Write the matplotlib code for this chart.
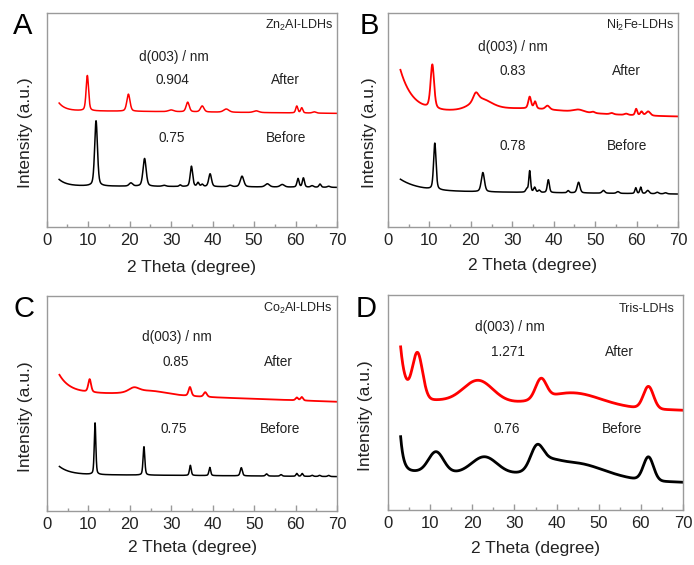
import numpy as np
import matplotlib
matplotlib.use("Agg")
import matplotlib.pyplot as plt
from matplotlib.ticker import MultipleLocator

plt.rcParams['font.family'] = ['Liberation Sans', 'DejaVu Sans']
plt.rcParams['mathtext.fontset'] = 'custom'
plt.rcParams['mathtext.rm'] = 'Liberation Sans'
plt.rcParams['mathtext.it'] = 'Liberation Sans'

# ---------------- data ----------------
two_theta_range = (3.0, 70.0)

# Panel A: Zn2Al-LDHs
A_after_base = (54.4, 53.1)          # baseline at 3 deg, at 70 deg
A_after_low = (3.5, 1.5)             # low-angle rise amplitude, decay length
A_after_pos = [9.8, 19.7, 30.0, 34.0, 37.5, 43.3, 50.5, 60.3, 61.5, 64.5]
A_after_h = [16.5, 8.0, 0.8, 4.5, 2.8, 1.5, 0.8, 3.2, 2.4, 0.6]
A_after_w = [0.7, 0.9, 1.5, 0.9, 1.0, 1.5, 1.5, 0.6, 0.6, 1.0]

A_before_base = (19.2, 18.5)
A_before_low = (3.0, 1.8)
A_before_pos = [11.9, 20.3, 23.6, 28.3, 32.2, 34.9, 36.5, 37.5, 39.4, 44.2, 47.1,
                53.2, 56.8, 60.6, 61.9, 64.0, 65.9, 68.0]
A_before_h = [30.5, 1.5, 13.0, 0.5, 0.7, 9.5, 1.8, 1.0, 6.0, 0.7, 5.0,
              1.5, 1.2, 4.0, 4.3, 0.7, 1.5, 0.5]
A_before_w = [0.8, 1.0, 0.9, 1.0, 0.6, 0.7, 0.6, 0.6, 0.8, 1.0, 1.0,
              1.2, 1.2, 0.6, 0.6, 0.8, 0.6, 0.8]

# Panel B: Ni2Fe-LDHs
B_after_base = (53.4, 51.5)
B_after_low = (19.7, 3.0)
B_after_pos = [10.7, 21.2, 22.5, 33.0, 34.2, 35.5, 38.5, 46.0, 49.5, 54.0, 57.5,
               59.9, 61.2, 62.8]
B_after_h = [20.6, 4.0, 5.0, 2.7, 5.5, 3.3, 1.8, 1.2, 0.6, 0.6, 0.6, 3.0, 1.8, 2.0]
B_after_w = [1.0, 1.5, 6.0, 28.0, 0.8, 0.7, 1.2, 3.0, 1.0, 1.0, 1.0, 0.6, 0.7, 1.2]

B_before_base = (16.8, 15.4)
B_before_low = (5.5, 4.5)
B_before_pos = [11.3, 22.9, 33.5, 34.2, 35.4, 36.5, 38.7, 43.5, 46.0, 52.0, 55.5,
                59.8, 61.0, 62.7, 65.0, 67.0]
B_before_h = [21.7, 9.0, 1.5, 10.0, 2.3, 1.0, 6.0, 1.0, 5.0, 1.3, 0.8,
              2.7, 3.0, 1.5, 0.7, 0.5]
B_before_w = [0.7, 0.9, 0.6, 0.5, 0.6, 0.6, 0.6, 0.6, 0.8, 0.8, 0.8,
              0.5, 0.5, 0.8, 0.8, 0.8]

# Panel C: Co2Al-LDHs
C_after_base = (55.3, 50.8)
C_after_low = (8.0, 2.5)
C_after_pos = [10.3, 21.0, 25.0, 34.5, 38.2, 60.3, 61.5]
C_after_h = [6.0, 2.2, 2.0, 4.2, 2.2, 1.3, 1.6]
C_after_w = [0.8, 3.0, 10.0, 0.8, 0.9, 0.7, 0.7]

C_before_base = (17.0, 16.0)
C_before_low = (3.7, 2.5)
C_before_pos = [11.6, 23.4, 34.6, 39.3, 46.9, 53.0, 56.5, 60.3, 61.6, 64.0, 65.8, 68.0]
C_before_h = [24.0, 13.2, 4.7, 3.8, 3.8, 1.0, 0.7, 1.3, 1.3, 0.5, 0.5, 0.5]
C_before_w = [0.45, 0.5, 0.5, 0.5, 0.6, 0.6, 0.6, 0.5, 0.5, 0.6, 0.6, 0.6]

# Panel D: Tris-LDHs
D_after_base = (51.8, 46.4)
D_after_low = (24.0, 1.2)
D_after_pos = [7.0, 21.4, 36.3, 44.0, 61.8]
D_after_h = [21.0, 10.0, 9.2, 6.0, 10.3]
D_after_w = [2.8, 8.2, 3.0, 15.3, 2.8]

D_before_base = (18.3, 12.9)
D_before_low = (15.8, 0.7)
D_before_pos = [11.4, 22.9, 35.3, 38.0, 44.0, 61.8]
D_before_h = [9.5, 8.0, 9.8, 3.0, 7.0, 10.9]
D_before_w = [4.2, 7.1, 3.5, 5.9, 16.5, 2.8]

panel_letters = ['A', 'B', 'C', 'D']
panel_names = ['Zn$_2$Al-LDHs', 'Ni$_2$Fe-LDHs', 'Co$_2$Al-LDHs', 'Tris-LDHs']
d_after = ['0.904', '0.83', '0.85', '1.271']
d_before = ['0.75', '0.78', '0.75', '0.76']
x_ticks = [0, 10, 20, 30, 40, 50, 60, 70]


def pattern(x, base, low, pos, h, w, eta):
    x0, x1 = two_theta_range
    y = base[0] + (base[1] - base[0]) * (x - x0) / (x1 - x0)
    y = y + low[0] * np.exp(-(x - x0) / low[1])
    for p, hh, ww in zip(pos, h, w):
        g = np.exp(-4 * np.log(2) * ((x - p) / ww) ** 2)
        l = 1.0 / (1.0 + (2 * (x - p) / ww) ** 2)
        y = y + hh * ((1 - eta) * g + eta * l)
    return y


# ---------------- figure ----------------
W, H = 694, 565
fig = plt.figure(figsize=(W / 100, H / 100), dpi=100)

# axes rectangles in pixels: left, right, top, bottom
rects = [(46.7, 337, 13, 227), (388, 678, 13, 227),
         (47, 337, 296, 511), (388, 683, 295, 510)]

curves = [
    ((A_after_base, A_after_low, A_after_pos, A_after_h, A_after_w, 0.4),
     (A_before_base, A_before_low, A_before_pos, A_before_h, A_before_w, 0.4)),
    ((B_after_base, B_after_low, B_after_pos, B_after_h, B_after_w, 0.4),
     (B_before_base, B_before_low, B_before_pos, B_before_h, B_before_w, 0.4)),
    ((C_after_base, C_after_low, C_after_pos, C_after_h, C_after_w, 0.4),
     (C_before_base, C_before_low, C_before_pos, C_before_h, C_before_w, 0.4)),
    ((D_after_base, D_after_low, D_after_pos, D_after_h, D_after_w, 0.0),
     (D_before_base, D_before_low, D_before_pos, D_before_h, D_before_w, 0.0)),
]

# text positions (data coords, x in deg, y in 0..100)
txt_pos = [
    dict(name=(69.0, 94.4), d=(30.7, 79.4), va=(30.2, 68.7), aa=(57.5, 68.7), vb=(30.2, 41.6), ab=(57.8, 41.6)),
    dict(name=(69.3, 94.4), d=(30.2, 84.1), va=(30.2, 72.9), aa=(57.6, 72.9), vb=(30.2, 37.9), ab=(57.8, 37.9)),
    dict(name=(69.0, 94.4), d=(31.4, 80.9), va=(31.0, 69.3), aa=(55.8, 69.3), vb=(30.7, 38.1), ab=(56.3, 38.1)),
    dict(name=(68.1, 93.5), d=(29.0, 85.1), va=(28.5, 73.5), aa=(55.0, 73.5), vb=(28.2, 37.7), ab=(55.5, 37.7)),
]
letter_px = [(13.3, 34.3), (359.5, 34.3), (13.5, 316.8), (355.7, 317.3)]
ylabel_x = [-0.047, -0.038, -0.048, -0.051]
xlabel_y = [-0.155, -0.145, -0.135, -0.143]
after_lw = [1.1, 1.3, 1.3, 2.0]
before_lw = [1.1, 1.1, 1.1, 2.0]

x = np.linspace(two_theta_range[0], two_theta_range[1], 2681)
spine_col = '#9a9a9a'

for i, (l, r, t, b) in enumerate(rects):
    ax = fig.add_axes([l / W, 1 - b / H, (r - l) / W, (b - t) / H])
    after, before = curves[i]
    ax.plot(x, pattern(x, *after), color='#ff0000', lw=after_lw[i])
    ax.plot(x, pattern(x, *before), color='black', lw=before_lw[i])
    ax.set_xlim(0, 70)
    ax.set_ylim(0, 100)
    ax.set_xticks(x_ticks)
    ax.xaxis.set_minor_locator(MultipleLocator(5))
    ax.set_yticks([])
    for s in ax.spines.values():
        s.set_color(spine_col)
        s.set_linewidth(1.0)
    ax.tick_params(axis='x', which='both', direction='in', colors=spine_col,
                   labelcolor='#222222', labelsize=12, pad=4)
    ax.tick_params(axis='x', which='major', length=4, width=1.0)
    ax.tick_params(axis='x', which='minor', length=2.5, width=1.0)
    ax.set_xlabel('2 Theta (degree)', fontsize=12.5, color='#222222')
    ax.xaxis.set_label_coords(0.5, xlabel_y[i])
    ax.set_ylabel('Intensity (a.u.)', fontsize=12.5, color='#222222')
    ax.yaxis.set_label_coords(ylabel_x[i], 0.44)

    tp = txt_pos[i]
    ax.text(*tp['name'], panel_names[i], ha='right', va='center', fontsize=9, color='#222222')
    ax.text(*tp['d'], 'd(003) / nm', ha='center', va='center', fontsize=9.8, color='#222222')
    ax.text(*tp['va'], d_after[i], ha='center', va='center', fontsize=9.8, color='#222222')
    ax.text(*tp['aa'], 'After', ha='center', va='center', fontsize=9.8, color='#222222')
    ax.text(*tp['vb'], d_before[i], ha='center', va='center', fontsize=9.8, color='#222222')
    ax.text(*tp['ab'], 'Before', ha='center', va='center', fontsize=9.8, color='#222222')

    fig.text(letter_px[i][0] / W, 1 - letter_px[i][1] / H, panel_letters[i],
             fontsize=21, ha='left', va='baseline', color='black')

fig.savefig('out.png', dpi=100)
